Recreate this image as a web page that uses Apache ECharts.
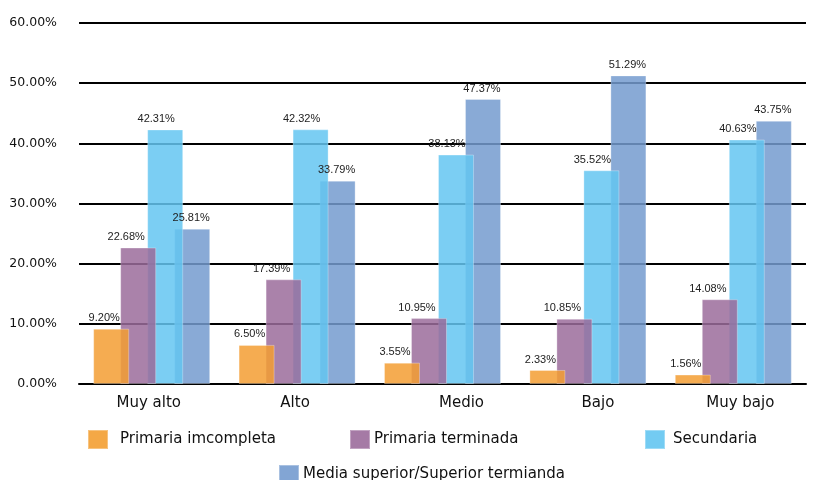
<!DOCTYPE html>
<html>
<head>
<meta charset="utf-8">
<script src="https://cdn.jsdelivr.net/npm/echarts@6/dist/echarts.min.js"></script>
<style>html,body{margin:0;padding:0;background:#fff}#c{width:816px;height:480px}</style>
</head>
<body>
<div id="c"></div>
<script>
const categories = ['Muy alto', 'Alto', 'Medio', 'Bajo', 'Muy bajo'];
const seriesNames = ['Primaria imcompleta', 'Primaria terminada', 'Secundaria', 'Media superior/Superior termianda'];
const primariaIncompleta = [9.20, 6.50, 3.55, 2.33, 1.56];
const primariaTerminada = [22.68, 17.39, 10.95, 10.85, 14.08];
const secundaria = [42.31, 42.32, 38.13, 35.52, 40.63];
const mediaSuperior = [25.81, 33.79, 47.37, 51.29, 43.75];
const yTicks = [0, 10, 20, 30, 40, 50, 60];

const values = [primariaIncompleta, primariaTerminada, secundaria, mediaSuperior];
const colors = ['#F39E32', '#9B6C9B', '#64C5F1', '#749BCF'];
const labelShift = [-7, -12, -9, -1];
const catShift = [-3, -2, 19, 10, 7];

const rich = {};
categories.forEach((c, i) => {
  const s = catShift[i];
  rich['c' + i] = {
    fontFamily: 'DejaVu Sans', fontSize: 15, color: '#111',
    padding: s >= 0 ? [0, 0, 0, 2 * s] : [0, -2 * s, 0, 0]
  };
});

const barCommon = {type: 'bar', barWidth: 36, barGap: '-25%'};

const barSeries = values.map((d, i) => Object.assign({}, barCommon, {
  name: seriesNames[i],
  data: d,
  xAxisIndex: 0,
  z: 10 - i,
  itemStyle: {color: colors[i], opacity: 0.85, borderColor: 'rgba(255,255,255,0.35)', borderWidth: 1},
  label: {show: false}
}));

const labelSeries = values.map((d, i) => Object.assign({}, barCommon, {
  name: seriesNames[i],
  data: d,
  xAxisIndex: 1,
  z: 20,
  silent: true,
  itemStyle: {color: 'rgba(0,0,0,0)'},
  label: {
    show: true, position: 'top', distance: 5,
    offset: [labelShift[i], 0],
    fontFamily: 'Liberation Sans', fontSize: 11, color: '#222',
    formatter: p => p.value.toFixed(2) + '%'
  }
}));

const chart = echarts.init(document.getElementById('c'), null, {renderer: 'canvas'});
chart.setOption({
  animation: false,
  color: colors,
  grid: {left: 79, right: 10, top: 23, bottom: 96},
  xAxis: [{
    type: 'category',
    data: categories,
    axisLine: {show: true, lineStyle: {color: '#000', width: 2}},
    axisTick: {show: false},
    axisLabel: {
      margin: 12,
      formatter: (v, i) => '{c' + i + '|' + v + '}',
      rich: rich
    }
  }, {
    type: 'category',
    data: categories,
    show: false
  }],
  yAxis: {
    type: 'value',
    min: yTicks[0], max: yTicks[yTicks.length - 1], interval: 10,
    axisLine: {show: false},
    axisTick: {show: false},
    splitLine: {lineStyle: {color: '#000', width: 2}},
    axisLabel: {
      margin: 22,
      fontFamily: 'DejaVu Sans', fontSize: 12.5, color: '#111',
      formatter: v => v.toFixed(2) + '%'
    }
  },
  legend: [
    {data: [seriesNames[0]], left: 87, top: 429},
    {data: [seriesNames[1]], left: 349, top: 429},
    {data: [seriesNames[2]], left: 644, top: 429},
    {data: [seriesNames[3]], left: 278, top: 464}
  ].map((l, i) => Object.assign(l, {
    icon: 'rect', itemWidth: 20, itemHeight: 19, padding: 0,
    itemStyle: {color: colors[i], opacity: 0.9},
    textStyle: {fontFamily: 'DejaVu Sans', fontSize: 15, color: '#111',
      padding: [0, 0, 0, i === 0 ? 7 : (i === 2 ? 3 : -1)]}
  })),
  series: barSeries.concat(labelSeries)
});
</script>
</body>
</html>
